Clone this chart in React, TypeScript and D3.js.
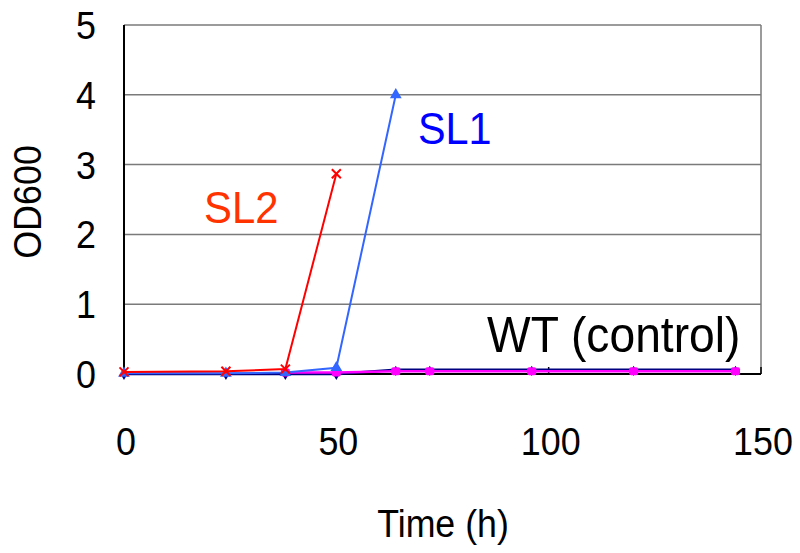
import React from "react";
import * as d3 from "d3";

const xTicks = [0, 50, 100, 150];
const yTicks = [0, 1, 2, 3, 4, 5];

const wtTimes = [0, 24, 38, 50, 64, 72, 96, 120, 144];
const wtValues = [0, 0, 0, 0, 0.06, 0.06, 0.06, 0.06, 0.06];

const ctrlTimes = [38, 50, 64, 72, 96, 120, 144];
const ctrlValues = [0.02, 0.02, 0.04, 0.04, 0.04, 0.04, 0.04];

const sl1Times = [0, 24, 38, 50, 64];
const sl1Values = [0.01, 0.01, 0.02, 0.09, 4.0];

const sl2Times = [0, 24, 38, 50];
const sl2Values = [0.03, 0.04, 0.07, 2.87];

const W = 800;
const H = 553;
const left = 124;
const right = 761;
const top = 25;
const bottom = 374;

const FONT = "'Liberation Sans', Arial, sans-serif";

function T(props: {
  x: number;
  y: number;
  size: number;
  sx: number;
  anchor?: string;
  fill?: string;
  rotate?: number;
  children: React.ReactNode;
}) {
  const { x, y, size, sx, anchor = "start", fill = "#000", rotate = 0, children } = props;
  return (
    <text
      transform={`translate(${x},${y}) rotate(${rotate}) scale(${sx},1)`}
      fontSize={size}
      textAnchor={anchor}
      fill={fill}
    >
      {children}
    </text>
  );
}

export default function App() {
  const x = d3.scaleLinear().domain([0, 150]).range([left, right]);
  const y = d3.scaleLinear().domain([0, 5]).range([bottom, top]);

  const line = d3
    .line<[number, number]>()
    .x((d) => x(d[0]))
    .y((d) => y(d[1]));

  const zip = (t: number[], v: number[]) =>
    t.map((tt, i) => [tt, v[i]] as [number, number]);

  const wt = zip(wtTimes, wtValues);
  const ctrl = zip(ctrlTimes, ctrlValues);
  const sl1 = zip(sl1Times, sl1Values);
  const sl2 = zip(sl2Times, sl2Values);

  const tri = d3.symbol().type(d3.symbolTriangle).size(60)() as string;
  const dia = d3.symbol().type(d3.symbolDiamond).size(30)() as string;

  return (
    <svg
      width={W}
      height={H}
      style={{ position: "absolute", left: 0, top: 0, background: "#fff" }}
      fontFamily={FONT}
    >
      <rect x={0} y={0} width={W} height={H} fill="#fff" />
      {yTicks
        .filter((t) => t > 0)
        .map((t) => (
          <line
            key={t}
            x1={left}
            x2={right}
            y1={y(t)}
            y2={y(t)}
            stroke="#7a7a7a"
            strokeWidth={1.5}
          />
        ))}
      <line x1={right} x2={right} y1={top} y2={bottom} stroke="#7a7a7a" strokeWidth={1.5} />
      <line x1={left} x2={left} y1={top} y2={bottom + 1} stroke="#000" strokeWidth={2} />
      <line x1={left} x2={right} y1={bottom} y2={bottom} stroke="#000" strokeWidth={2} />
      {xTicks.map((t) => (
        <line key={t} x1={x(t)} x2={x(t)} y1={bottom} y2={bottom - 7} stroke="#000" strokeWidth={1.5} />
      ))}
      {yTicks.map((t) => (
        <T key={t} x={96} y={y(t) + 14} size={39} sx={0.92} anchor="end">
          {t}
        </T>
      ))}
      {xTicks.map((t) => (
        <T key={t} x={x(t) + 2} y={455} size={39} sx={0.92} anchor="middle">
          {t}
        </T>
      ))}
      <T x={443} y={537} size={38} sx={0.94} anchor="middle">
        Time (h)
      </T>
      <T x={41} y={202} size={39} sx={0.92} anchor="middle" rotate={-90}>
        OD600
      </T>

      <path d={line(wt) as string} fill="none" stroke="#000080" strokeWidth={2.5} />
      {wt.map((d, i) => (
        <path key={i} d={dia} transform={`translate(${x(d[0])},${y(d[1]) + 1})`} fill="#000080" />
      ))}
      <path d={line(ctrl) as string} fill="none" stroke="#FF00FF" strokeWidth={2.5} />
      {ctrl.map((d, i) => (
        <rect
          key={i}
          x={x(d[0]) - 4.5}
          y={y(d[1]) - 4}
          width={9}
          height={8}
          rx={2}
          fill="#FF00FF"
        />
      ))}
      <path d={line(sl1) as string} fill="none" stroke="#3366FF" strokeWidth={2} />
      {sl1.map((d, i) => (
        <path key={i} d={tri} transform={`translate(${x(d[0])},${y(d[1])})`} fill="#3366FF" />
      ))}
      <path d={line(sl2) as string} fill="none" stroke="#FF0000" strokeWidth={2} />
      {sl2.map((d, i) => {
        const cx = x(d[0]);
        const cy = y(d[1]);
        const s = 4.5;
        return (
          <g key={i} stroke="#FF0000" strokeWidth={2}>
            <line x1={cx - s} y1={cy - s} x2={cx + s} y2={cy + s} />
            <line x1={cx - s} y1={cy + s} x2={cx + s} y2={cy - s} />
          </g>
        );
      })}

      <T x={418} y={144} size={45} sx={0.92} fill="#0000FF">
        SL1
      </T>
      <T x={204} y={223} size={45} sx={0.93} fill="#FF3300">
        SL2
      </T>
      <T x={487} y={352} size={50} sx={0.925}>
        WT (control)
      </T>
    </svg>
  );
}
